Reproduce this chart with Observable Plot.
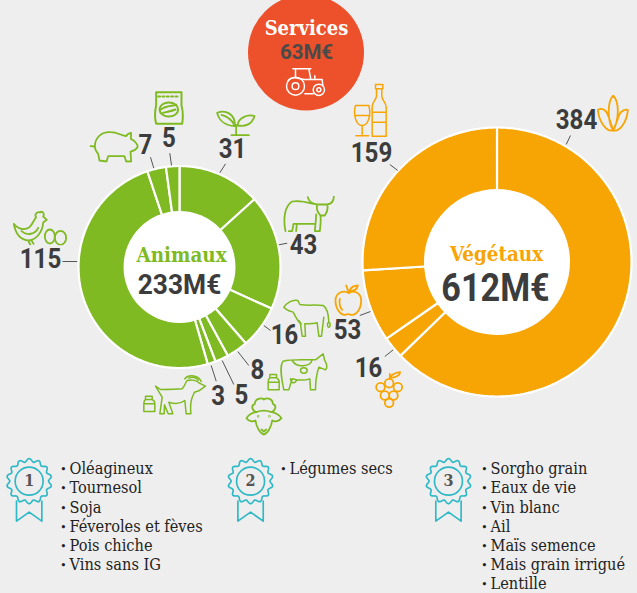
<!DOCTYPE html>
<html><head><meta charset="utf-8">
<script src="https://cdn.jsdelivr.net/npm/d3@7"></script>
<script src="https://cdn.jsdelivr.net/npm/@observablehq/plot@0.6"></script>
<style>html,body{margin:0;padding:0;background:#eeeeee;overflow:hidden}svg{display:block}</style>
</head><body><div id="chart"></div>
<script>
// ---- data
const animauxValues = [31, 43, 16, 8, 5, 3, 115, 7, 5];
const vegetauxValues = [384, 16, 53, 159];
const animauxTotal = "233M€", vegetauxTotal = "612M€", servicesTotal = "63M€";
const rank1 = ["Oléagineux","Tournesol","Soja","Féveroles et fèves","Pois chiche","Vins sans IG"];
const rank2 = ["Légumes secs"];
const rank3 = ["Sorgho grain","Eaux de vie","Vin blanc","Ail","Maïs semence","Mais grain irrigué","Lentille"];

// ---- layout
const GREEN="#7fba22", ORANGE="#f7a504", RED="#ec512b", TEAL="#2fb8c6", DARK="#3c3c3c";
const NUM='Roboto', SERIF='"DejaVu Serif Condensed","DejaVu Serif"';
const animauxRing={cx:179,cy:266.5,r0:50,r1:101,hole:56};
const vegetauxRing={cx:496.5,cy:261.5,r0:65,r1:134.5,hole:73};
const animauxLabelPos=[[232,149],[303,244.5],[284,335],[257,370],[241,395],[217.7,396],[40,259],[145,145],[168.5,138]];
const vegetauxLabelPos=[[576,120],[368,368],[347,330],[371,153]];
const leaders=[[225,163.3,219.3,172.3],[286.7,242.7,278.3,244.3],[270,330,263.3,325],[248.3,365,237.3,351],[233.3,384,221.7,360],[215.7,380.7,210.7,365],[62,261,76.7,261],[150,156.7,153.3,167.7],[169.3,152.7,171,165],
 [570,135,565.7,144],[384.3,356,392.7,349.3],[359.3,315,370,311],[389.3,164,397.3,170]];

function ringRows(values,ring,name){
  const arcs=d3.pie().sort(null).value(d=>d)(values), rows=[];
  arcs.forEach((a,i)=>{
    const n=Math.max(2,Math.ceil((a.endAngle-a.startAngle)/0.015));
    const pts=[];
    for(let k=0;k<=n;k++){const t=a.startAngle+(a.endAngle-a.startAngle)*k/n;pts.push([ring.cx+ring.r1*Math.sin(t),ring.cy-ring.r1*Math.cos(t)]);}
    for(let k=n;k>=0;k--){const t=a.startAngle+(a.endAngle-a.startAngle)*k/n;pts.push([ring.cx+ring.r0*Math.sin(t),ring.cy-ring.r0*Math.cos(t)]);}
    pts.push(pts[0]);
    pts.forEach(p=>rows.push({slice:name+i,px:p[0],py:p[1]}));
  });
  return rows;
}
const zip=(vals,pos)=>vals.map((v,i)=>({v,x:pos[i][0],y:pos[i][1]}));

// ---- line icons, drawn at 3x in the coordinates of their own box
function icon(color,ox,oy,box,body,sw=5.4){
  const [x0,y0,x1,y1]=box;
  const svg=`<svg xmlns="http://www.w3.org/2000/svg" viewBox="${x0} ${y0} ${x1-x0} ${y1-y0}" width="${(x1-x0)*4/3}" height="${(y1-y0)*4/3}"><g fill="none" stroke="${color}" stroke-width="${sw}" stroke-linecap="round" stroke-linejoin="round">${body}</g></svg>`;
  return {src:"data:image/svg+xml,"+encodeURIComponent(svg),x:ox+(x0+x1)/6,y:oy+(y0+y1)/6,w:(x1-x0)/3,h:(y1-y0)/3};
}
const p=d=>`<path d="${d}"/>`, c=(x,y,r)=>`<circle cx="${x}" cy="${y}" r="${r}"/>`, e=(x,y,a,b)=>`<ellipse cx="${x}" cy="${y}" rx="${a}" ry="${b}"/>`;
const churn=(x,y)=>`<g transform="translate(${x},${y})">`+p("M6,14 V4 H26 V14 C33,17 34,22 34,27 V50 H1 V27 C1,22 1,17 6,14Z M1,27 H34 M6,14 H26")+`</g>`;
function rosette(){let d="";const n=14;for(let i=0;i<=n*8;i++){const t=i/(n*8)*2*Math.PI;const r=63+5*Math.cos(n*t);d+=(i?"L":"M")+(71+r*Math.sin(t)).toFixed(1)+","+(72-r*Math.cos(t)).toFixed(1);}return d+"Z";}
const ribbon=ox=>icon(TEAL,ox,445,[15,35,157,232],`<g transform="translate(15,35)">`+p(rosette())+c(71,72,42)+p("M33,132 V192 L71,165 L109,192 V132")+`</g>`,5);
const icons=[
 icon(GREEN,5,200,[20,28,188,135],p("M25,70 C40,90 60,88 72,80 C82,70 85,58 92,50 C86,42 95,32 103,36 C110,30 118,38 113,48 L124,58 L113,66 C112,90 95,118 70,120 C45,118 30,100 25,70Z M48,92 C65,108 90,100 98,82 M68,120 L74,132 M78,120 L84,130")+e(133,108,15,21)+e(165,112,17,21)),
 icon(GREEN,85,85,[10,135,162,232],p("M15,182 L28,183 C28,155 50,138 75,140 C95,140 108,150 122,152 C124,148 130,143 137,142 L136,160 C148,165 158,178 156,185 C150,195 142,196 135,198 L137,228 L122,228 L117,212 L68,212 L63,228 L42,225 L38,205 C32,198 28,192 28,183")),
 icon(GREEN,85,85,[205,15,296,120],p("M212,20 H288 V60 C295,85 292,100 290,115 H212 C208,100 206,85 212,60Z")+p("M218,33 H282").replace('/>',' stroke-dasharray="6 7"/>')+e(250,72,28,21)+p("M226,72 C240,60 262,62 272,58 M232,82 C245,78 255,78 270,72"),6),
 icon(GREEN,85,85,[390,72,512,155],p("M438,149 H490 M452,149 V118 M395,82 C420,72 450,85 448,122 C420,120 400,105 395,82Z M408,88 C425,92 440,105 448,120 M507,92 C490,85 458,95 456,120 C480,125 500,115 507,92Z")),
 icon(GREEN,275,190,[20,15,180,126],p("M30,122 C22,85 28,45 50,33 C70,28 95,35 115,40 M97,20 C100,35 110,40 125,42 L155,42 C168,40 175,30 175,18 M125,42 C122,55 128,68 135,75 L148,75 C155,65 158,52 155,42 M122,72 C122,82 120,100 118,122 L133,122 C135,105 137,90 135,78 M40,122 L50,122 L54,100 L118,100 M62,122 L64,100")),
 icon(GREEN,260,290,[65,22,215,142],p("M70,50 C78,38 95,26 112,30 L118,42 C140,46 170,42 188,45 C200,52 204,70 205,95 M70,50 C78,60 90,62 98,65 C108,85 115,95 120,100 L125,137 L135,137 L133,100 C145,100 160,100 170,97 L175,137 L183,137 L190,80")+e(205,103,4,7)+p("M122,100 L115,90"),4.5),
 icon(GREEN,260,290,[18,185,205,302],p("M70,298 C60,250 58,225 68,212 C90,205 130,208 165,208 L188,190 L192,208 C195,215 205,228 195,238 L175,230 C170,245 165,270 165,298 L150,298 L148,265 C135,270 110,270 95,265 L85,298Z M95,210 C110,235 150,228 155,208 M90,265 C92,280 105,280 108,268")+e(130,240,10,8)+churn(22,248),4.5),
 icon(GREEN,135,365,[18,22,215,152],p("M60,62 L75,72 C95,72 120,72 140,70 C148,62 150,50 155,45 C170,42 185,45 190,52 L210,62 L190,76 L177,80 C170,95 163,105 166,145 L152,145 L148,105 C135,115 115,115 100,110 L112,145 L98,145 L87,118 L86,145 L73,145 L80,95 Z M148,40 C160,25 190,30 197,48 M160,38 C170,34 182,36 188,44")+churn(24,88),4.5),
 icon(GREEN,135,365,[328,92,444,212],p("M362,140 C350,135 345,120 358,115 C358,100 378,95 385,102 C395,95 412,100 412,115 C425,120 420,135 408,140 M362,140 C352,140 338,148 333,158 C340,168 352,170 360,165 C362,185 375,205 385,207 C395,205 408,185 410,165 C418,170 430,168 438,158 C432,148 418,140 408,140 C395,135 375,135 362,140Z M378,192 L385,198 L392,192")+c(368,152,1)+c(402,152,1)),
 icon(ORANGE,330,280,[8,10,98,110],p("M55,38 C40,28 15,35 15,60 C15,85 30,105 45,103 C50,100 55,100 62,103 C78,105 92,85 92,60 C92,35 68,28 55,38Z M28,55 C25,70 30,82 35,88 M47,15 L54,34 M56,32 C62,18 72,15 82,15 C80,26 70,32 56,32Z")),
 icon(ORANGE,330,280,[132,270,220,385],c(150,320,13)+c(176,308,13)+c(202,320,13)+c(163,345,13)+c(189,345,13)+c(176,367,13)+p("M178,295 V280 M178,292 C185,278 198,276 209,275 C208,285 195,292 178,292Z")),
 icon(ORANGE,340,70,[36,36,142,202],p("M45,105 H85 C92,130 85,165 65,165 C45,165 38,130 45,105Z M42,135 H88 M65,165 V192 M46,196 H84 M105,42 H127 V55 H105Z M108,55 V78 C105,90 95,95 95,110 V197 H137 V110 C137,95 125,90 124,78 V55 M95,125 H137 M95,155 H137"),4.5),
 icon(ORANGE,340,70,[768,72,866,186],p("M818,75 C800,95 800,150 818,180 C835,150 838,95 818,75Z M772,118 C785,110 800,120 805,140 C810,155 815,170 818,180 C795,185 775,150 772,118Z M862,118 C845,115 835,130 830,150 C825,165 820,172 818,180 C840,185 860,150 862,118Z")),
 icon("#ffffff",245,0,[118,198,242,290],p("M142,205 H196 M150,205 V232 M190,205 L196,237 M176,237 H230 L232,255 M128,240 C132,235 142,231 150,232 L176,237 M208,226 V237 M178,280 H203")+c(150,257,27)+c(150,257,10)+c(220,268,17)+c(220,268,6),4.5),
 ribbon(0), ribbon(221.4), ribbon(419.3)
];

const rows=(items,x)=>items.map((t,i)=>({t,x,y:468.5+i*19.2}));
const listRows=[...rows(rank1,60),...rows(rank2,280),...rows(rank3,481)];

const txt=(rows,font,size,weight,fill,extra={})=>Plot.text(rows,{x:"x",y:"y",text:"v",fontFamily:font,fontSize:size,fontWeight:weight,fill,...extra});

const chart=Plot.plot({
  width:637,height:593,margin:0,
  style:{background:"#eeeeee"},
  x:{domain:[0,637],range:[0,637],axis:null},
  y:{domain:[0,593],range:[0,593],axis:null},
  marks:[
    Plot.dot([{x:305.5,y:52}],{x:"x",y:"y",r:58,fill:RED}),
    Plot.line(ringRows(animauxValues,animauxRing,"a"),{x:"px",y:"py",z:"slice",fill:GREEN,stroke:"white",strokeWidth:2.2,strokeLinejoin:"miter"}),
    Plot.line(ringRows(vegetauxValues,vegetauxRing,"v"),{x:"px",y:"py",z:"slice",fill:ORANGE,stroke:"white",strokeWidth:2.2,strokeLinejoin:"miter"}),
    Plot.dot([animauxRing],{x:"cx",y:"cy",r:animauxRing.hole,fill:"white",stroke:"none"}),
    Plot.dot([vegetauxRing],{x:"cx",y:"cy",r:vegetauxRing.hole,fill:"white",stroke:"none"}),
    Plot.link(leaders,{x1:d=>d[0],y1:d=>d[1],x2:d=>d[2],y2:d=>d[3],stroke:"#555",strokeWidth:1}),
    Plot.image(icons,{x:"x",y:"y",width:"w",height:"h",src:"src"}),
    txt(zip(animauxValues,animauxLabelPos),NUM,28,700,DARK,{className:"sq86"}),
    txt(zip(vegetauxValues,vegetauxLabelPos),NUM,28,700,DARK,{className:"sq86"}),
    txt([{v:"Animaux",x:181,y:254.5}],SERIF,20.4,700,GREEN),
    txt([{v:animauxTotal,x:179,y:285}],NUM,28,700,DARK,{className:"sq94"}),
    txt([{v:"Végétaux",x:496,y:254}],SERIF,20.4,700,ORANGE),
    txt([{v:vegetauxTotal,x:495,y:288}],NUM,38,700,DARK,{className:"sq90"}),
    txt([{v:"Services",x:306,y:28}],SERIF,20,700,"#ffffff"),
    txt([{v:servicesTotal,x:306,y:52}],NUM,20.5,700,"#4a4a4a"),
    txt([{v:"1",x:28.7,y:480.7},{v:"2",x:250,y:480.7},{v:"3",x:448,y:480.7}],SERIF,16,700,"#555"),
    Plot.text(listRows,{x:"x",y:"y",text:()=>"•",textAnchor:"start",fontFamily:SERIF,fontSize:10,fontWeight:700,fill:"#222"}),
    Plot.text(listRows,{x:d=>d.x+9,y:"y",text:"t",textAnchor:"start",fontFamily:SERIF,fontSize:16.2,fill:"#222"})
  ]
});
document.getElementById("chart").appendChild(chart);
// squeeze the bold Roboto labels towards the narrower face of the reference
for(const [cls,k] of [["sq86",0.86],["sq94",0.94],["sq90",0.9]])
  chart.querySelectorAll("."+cls+" text").forEach(t=>{
    t.setAttribute("textLength",(t.getComputedTextLength()*k).toFixed(1));
    t.setAttribute("lengthAdjust","spacingAndGlyphs");
  });
</script></body></html>
